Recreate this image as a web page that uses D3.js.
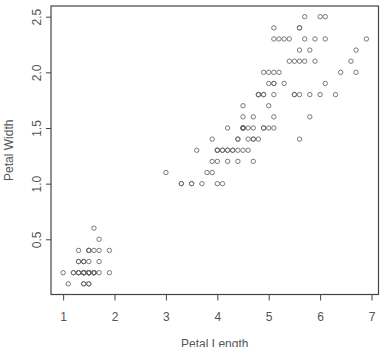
<!DOCTYPE html>
<html>
<head>
<meta charset="utf-8">
<script src="https://cdn.jsdelivr.net/npm/d3@7"></script>
<style>
  body { margin: 0; background: #fff; }
  text { font-family: "Liberation Sans", Arial, sans-serif; }
</style>
</head>
<body>
<div id="chart"></div>
<script>
const width = 382;
const height = 347;

// iris petal measurements
const petalLength = [
  1.4,1.4,1.3,1.5,1.4,1.7,1.4,1.5,1.4,1.5,1.5,1.6,1.4,1.1,1.2,1.5,1.3,1.4,1.7,1.5,1.7,1.5,1.0,1.7,1.9,
  1.6,1.6,1.5,1.4,1.6,1.6,1.5,1.5,1.4,1.5,1.2,1.3,1.4,1.3,1.5,1.3,1.3,1.3,1.6,1.9,1.4,1.6,1.4,1.5,1.4,
  4.7,4.5,4.9,4.0,4.6,4.5,4.7,3.3,4.6,3.9,3.5,4.2,4.0,4.7,3.6,4.4,4.5,4.1,4.5,3.9,4.8,4.0,4.9,4.7,4.3,
  4.4,4.8,5.0,4.5,3.5,3.8,3.7,3.9,5.1,4.5,4.5,4.7,4.4,4.1,4.0,4.4,4.6,4.0,3.3,4.2,4.2,4.2,4.3,3.0,4.1,
  6.0,5.1,5.9,5.6,5.8,6.6,4.5,6.3,5.8,6.1,5.1,5.3,5.5,5.0,5.1,5.3,5.5,6.7,6.9,5.0,5.7,4.9,6.7,4.9,5.7,
  6.0,4.8,4.9,5.6,5.8,6.1,6.4,5.6,5.1,5.6,6.1,5.6,5.5,4.8,5.4,5.6,5.1,5.1,5.9,5.7,5.2,5.0,5.2,5.4,5.1
];
const petalWidth = [
  0.2,0.2,0.2,0.2,0.2,0.4,0.3,0.2,0.2,0.1,0.2,0.2,0.1,0.1,0.2,0.4,0.4,0.3,0.3,0.3,0.2,0.4,0.2,0.5,0.2,
  0.2,0.4,0.2,0.2,0.2,0.2,0.4,0.1,0.2,0.2,0.2,0.2,0.1,0.2,0.2,0.3,0.3,0.2,0.6,0.4,0.3,0.2,0.2,0.2,0.2,
  1.4,1.5,1.5,1.3,1.5,1.3,1.6,1.0,1.3,1.4,1.0,1.5,1.0,1.4,1.3,1.4,1.5,1.0,1.5,1.1,1.8,1.3,1.5,1.2,1.3,
  1.4,1.4,1.7,1.5,1.0,1.1,1.0,1.2,1.6,1.5,1.6,1.5,1.3,1.3,1.3,1.2,1.4,1.2,1.0,1.3,1.2,1.3,1.3,1.1,1.3,
  2.5,1.9,2.1,1.8,2.2,2.1,1.7,1.8,1.8,2.5,2.0,1.9,2.1,2.0,2.4,2.3,1.8,2.2,2.3,1.5,2.3,2.0,2.0,1.8,2.1,
  1.8,1.8,1.8,2.1,1.6,1.9,2.0,2.2,1.5,1.4,2.3,2.4,1.8,1.8,2.1,2.4,2.3,1.9,2.3,2.5,2.3,1.9,2.0,2.3,1.8
];
const xTicks = [1, 2, 3, 4, 5, 6, 7];
const yTicks = [0.5, 1.0, 1.5, 2.0, 2.5];

const plot = { left: 51, right: 378.5, top: 6, bottom: 294.5 };

const svg = d3.select("#chart")
    .append("svg")
    .attr("width", width)
    .attr("height", height);

// R-style 4% padding on data range
const xExt = d3.extent(petalLength), yExt = d3.extent(petalWidth);
const xPad = (xExt[1] - xExt[0]) * 0.04, yPad = (yExt[1] - yExt[0]) * 0.04;

const x = d3.scaleLinear()
    .domain([xExt[0] - xPad, xExt[1] + xPad])
    .range([plot.left, plot.right]);
const y = d3.scaleLinear()
    .domain([yExt[0] - yPad, yExt[1] + yPad])
    .range([plot.bottom, plot.top]);

const axisColor = "#444";
const textColor = "#555";

// x axis
const xAxis = svg.append("g")
    .attr("transform", `translate(0,${plot.bottom})`)
    .call(d3.axisBottom(x).tickValues(xTicks).tickSize(6).tickPadding(12).tickFormat(d3.format("d")));
xAxis.select(".domain").remove();
xAxis.selectAll("line").attr("stroke", axisColor);
xAxis.selectAll("text").attr("fill", textColor).style("font-size", "12px");

// y axis, labels rotated like R's default
const yAxis = svg.append("g")
    .attr("transform", `translate(${plot.left},0)`)
    .call(d3.axisLeft(y).tickValues(yTicks).tickSize(5).tickFormat(d3.format(".1f")));
yAxis.select(".domain").remove();
yAxis.selectAll("line").attr("stroke", axisColor);
yAxis.selectAll("text")
    .attr("fill", textColor)
    .style("font-size", "12px")
    .attr("x", null)
    .attr("text-anchor", "middle")
    .attr("transform", "translate(-14,0) rotate(-90)")
    .attr("y", 0)
    .attr("dy", "0.35em");

// box
svg.append("rect")
    .attr("x", plot.left)
    .attr("y", plot.top)
    .attr("width", plot.right - plot.left)
    .attr("height", plot.bottom - plot.top)
    .attr("fill", "none")
    .attr("stroke", axisColor)
    .attr("stroke-width", 1.2);

// points
svg.append("g").selectAll("circle")
    .data(d3.range(petalLength.length))
    .join("circle")
    .attr("cx", i => x(petalLength[i]))
    .attr("cy", i => y(petalWidth[i]))
    .attr("r", 2.2)
    .attr("fill", "none")
    .attr("stroke", "#6a6a6a")
    .attr("stroke-width", 0.9);

// axis titles
svg.append("text")
    .attr("x", (plot.left + plot.right) / 2)
    .attr("y", 347.5)
    .attr("text-anchor", "middle")
    .attr("fill", textColor)
    .style("font-size", "12px")
    .text("Petal Length");

svg.append("text")
    .attr("transform", `translate(13,${(plot.top + plot.bottom) / 2}) rotate(-90)`)
    .attr("text-anchor", "middle")
    .attr("fill", textColor)
    .style("font-size", "12px")
    .text("Petal Width");
</script>
</body>
</html>
